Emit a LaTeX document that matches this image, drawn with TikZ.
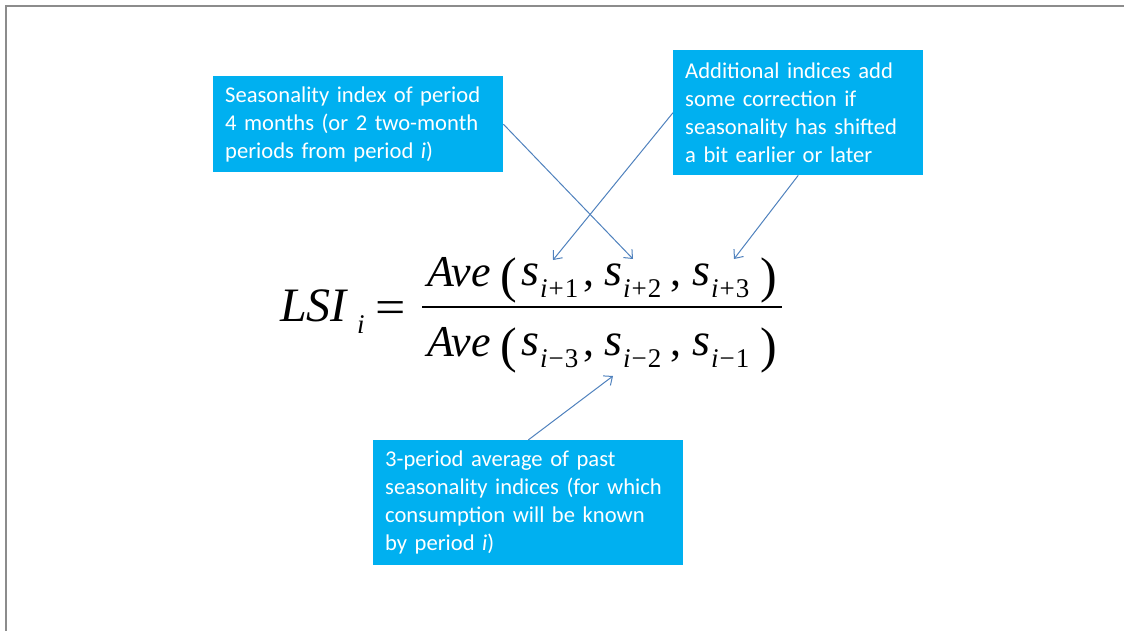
\documentclass[tikz,border=0pt]{standalone}
\usepackage{fontspec}
\setmainfont{Carlito}
\newfontfamily\eqfont{Liberation Serif}
\usetikzlibrary{arrows.meta}
\definecolor{boxblue}{HTML}{00B0F0}
\definecolor{arrowblue}{HTML}{4F81BD}
\definecolor{framegray}{HTML}{8C8C8C}
\begin{document}
\begin{tikzpicture}[x=1pt, y=-1pt,
    note/.style={fill=boxblue, text=white, anchor=north west, align=left,
        inner xsep=12pt, inner ysep=0pt, font=\fontsize{22.6}{28}\selectfont},
    pointer/.style={draw=arrowblue, line width=1pt,
        -{Straight Barb[length=7pt, width=12pt]}},
    eqbig/.style={anchor=base west, inner sep=0pt, font=\eqfont\fontsize{44}{44}\selectfont},
    eqs/.style={anchor=base west, inner sep=0pt, font=\eqfont\fontsize{46}{46}\selectfont},
    eqlsi/.style={anchor=base west, inner sep=0pt, font=\eqfont\fontsize{48}{48}\selectfont},
    eqsub/.style={anchor=base west, inner sep=0pt, font=\eqfont\fontsize{27}{27}\selectfont},
    eqpar/.style={anchor=base west, inner sep=0pt, font=\eqfont\fontsize{50}{50}\selectfont}]
    \useasboundingbox (0,0) rectangle (1124,631);

    % Slide frame
    \draw[framegray, line width=1.5pt] (6,631) -- (6,6) -- (1124,6);

    % Left side
    \node[eqlsi] (lsi) at (280,321) {\itshape LSI};
    \node[eqsub] (lsisub) at (357,333) {\itshape i};
    \node[eqlsi] (equals) at (375,323) {\scalebox{1.12}[1]{=}};

    % Fraction bar
    \draw[line width=2pt] (422,307) -- (782,307);

    % Numerator
    \node[eqbig] (numave) at (427,286) {\itshape Ave};
    \node[eqpar] (numlp) at (500,292) {(};
    \foreach \n/\x/\op/\d in {1/521/+/1, 2/604/+/2, 3/692/+/3} {
        \node[eqs] (nums\n) at (\x,285) {\itshape s};
        \node[eqsub] (numsub\n) at ({\x+19},297) {\textit{i}\kern1pt\op\kern1pt\d};
    }
    \node[eqbig] (numc1) at (583,285) {,};
    \node[eqbig] (numc2) at (670,285) {,};
    \node[eqpar] (numrp) at (760,292) {)};

    % Denominator
    \node[eqbig] (denave) at (427,356) {\itshape Ave};
    \node[eqpar] (denlp) at (500,362) {(};
    \foreach \n/\x/\d in {1/521/3, 2/604/2, 3/692/1} {
        \node[eqs] (dens\n) at (\x,355) {\itshape s};
        \node[eqsub] (densub\n) at ({\x+19},367) {\textit{i}\kern1pt−\kern1pt\d};
    }
    \node[eqbig] (denc1) at (583,355) {,};
    \node[eqbig] (denc2) at (670,355) {,};
    \node[eqpar] (denrp) at (760,362) {)};

    % Callout boxes
    \node[note, text width=266pt, minimum height=96pt] (shiftbox) at (213,76)
        {Seasonality index of period\\4 months (or 2 two-month\\periods from period \textit{i})};
    \node[note, text width=226pt, minimum height=125pt] (extrabox) at (673,50)
        {Additional indices add\\some correction if\\seasonality has shifted\\a bit earlier or later};
    \node[note, text width=286pt, minimum height=125pt] (pastbox) at (373,440)
        {3-period average of past\\seasonality indices (for which\\consumption will be known\\by period \textit{i})};

    % Arrow ends
    \coordinate (tipnext) at (633,259);
    \coordinate (tipfirst) at (553,260);
    \coordinate (tipthird) at (734,259);
    \coordinate (tippast) at (613,376);

    % Arrows
    \draw[pointer] (shiftbox.east) -- (tipnext);
    \draw[pointer] (extrabox.west) -- (tipfirst);
    \draw[pointer] (extrabox.south) -- (tipthird);
    \draw[pointer] (pastbox.north) -- (tippast);
\end{tikzpicture}
\end{document}
